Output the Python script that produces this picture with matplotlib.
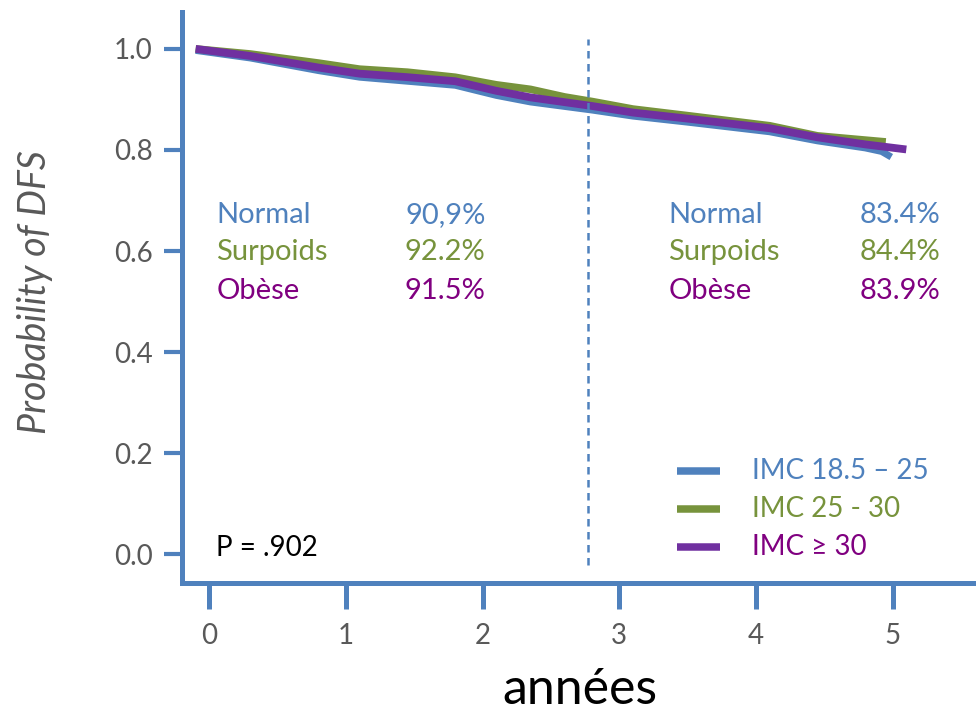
import matplotlib
matplotlib.use("Agg")
import matplotlib.pyplot as plt

plt.rcParams['font.family'] = ['Lato', 'DejaVu Sans']

# survival curves
years_normal = [-0.1, 0.3, 0.8, 1.1, 1.45, 1.8, 2.1, 2.35, 2.8, 3.1, 3.5, 4.1, 4.45, 4.8, 4.92, 4.99]
dfs_normal = [0.997, 0.982, 0.957, 0.944, 0.936, 0.928, 0.908, 0.895, 0.879, 0.867, 0.855, 0.836, 0.818, 0.804, 0.797, 0.786]

years_surpoids = [-0.1, 0.3, 0.8, 1.1, 1.45, 1.8, 2.1, 2.35, 2.6, 2.8, 3.1, 3.5, 4.1, 4.45, 4.95]
dfs_surpoids = [1.0, 0.990, 0.972, 0.960, 0.954, 0.944, 0.929, 0.920, 0.905, 0.896, 0.881, 0.868, 0.848, 0.828, 0.816]

years_obese = [-0.1, 0.3, 0.8, 1.1, 1.45, 1.8, 2.1, 2.35, 2.8, 3.1, 3.5, 4.1, 4.45, 4.8, 5.1]
dfs_obese = [1.0, 0.986, 0.963, 0.951, 0.944, 0.936, 0.917, 0.904, 0.887, 0.874, 0.862, 0.843, 0.825, 0.811, 0.801]

legend_labels = ['IMC 18.5 \u2013 25', 'IMC 25 - 30', 'IMC \u2265 30']
group_names = ['Normal', 'Surpoids', 'Obèse']
pct_3y = ['90,9%', '92.2%', '91.5%']
pct_5y = ['83.4%', '84.4%', '83.9%']
p_value = 'P = .902'
cut_year = 2.77

line_colors = ['#4F81BD', '#77933C', '#7030A0']
text_colors = ['#4F81BD', '#77933C', '#800080']
axis_blue = '#4F81BD'
gray = '#595959'

fig = plt.figure(figsize=(9.76, 7.13), dpi=100)
ax = fig.add_axes([182/976, 130/713, 794/976, 571/713])

ax.plot(years_normal, dfs_normal, color=line_colors[0], lw=5.0, solid_capstyle='butt')
ax.plot(years_surpoids, dfs_surpoids, color=line_colors[1], lw=5.4, solid_capstyle='butt')
ax.plot(years_obese, dfs_obese, color=line_colors[2], lw=5.6, solid_capstyle='butt')

ax.vlines(cut_year, -0.022, 1.02, colors=axis_blue, linestyles=(0, (3, 2.2)), lw=1.8)

ax.set_xlim(-0.2, 5.61)
ax.set_ylim(-0.057, 1.073)
ax.set_xticks(range(6))
ax.set_yticks([0.0, 0.2, 0.4, 0.6, 0.8, 1.0])
ax.set_yticklabels(['0.0', '0.2', '0.4', '0.6', '0.8', '1.0'])

for s in ['top', 'right']:
    ax.spines[s].set_visible(False)
for s in ['left', 'bottom']:
    ax.spines[s].set_color(axis_blue)
    ax.spines[s].set_linewidth(3.6)

ax.tick_params(axis='x', length=19, width=3.6, color=axis_blue, pad=10,
               labelsize=20, labelcolor=gray)
ax.tick_params(axis='y', length=13, width=3.0, color=axis_blue, pad=8,
               labelsize=20, labelcolor=gray)

ax.set_ylabel('Probability of DFS', fontsize=27, style='italic', color=gray)
ax.yaxis.set_label_coords(-0.163, 0.51)
fig.text(580/976, 1 - 690/713, 'années', fontsize=36, color='black',
         ha='center', va='center')

# percentages at 3 and 5 years
row_y = [0.671, 0.598, 0.521]
for i in range(3):
    ax.text(0.05, row_y[i], group_names[i], color=text_colors[i], fontsize=21,
            va='center', ha='left')
    ax.text(2.02, row_y[i], pct_3y[i], color=text_colors[i], fontsize=21,
            va='center', ha='right')
    ax.text(3.36, row_y[i], group_names[i], color=text_colors[i], fontsize=21,
            va='center', ha='left')
    ax.text(5.35, row_y[i], pct_5y[i], color=text_colors[i], fontsize=21,
            va='center', ha='right')

ax.text(0.05, 0.012, p_value, color='black', fontsize=20, va='center', ha='left')

# legend drawn by hand
leg_y = [0.165, 0.0895, 0.0142]
for i in range(3):
    ax.plot([3.42, 3.74], [leg_y[i], leg_y[i]], color=line_colors[i], lw=5.4,
            solid_capstyle='butt')
    ax.text(3.97, leg_y[i], legend_labels[i], color=text_colors[i], fontsize=20,
            va='center', ha='left')

fig.savefig('out.png', dpi=100)
